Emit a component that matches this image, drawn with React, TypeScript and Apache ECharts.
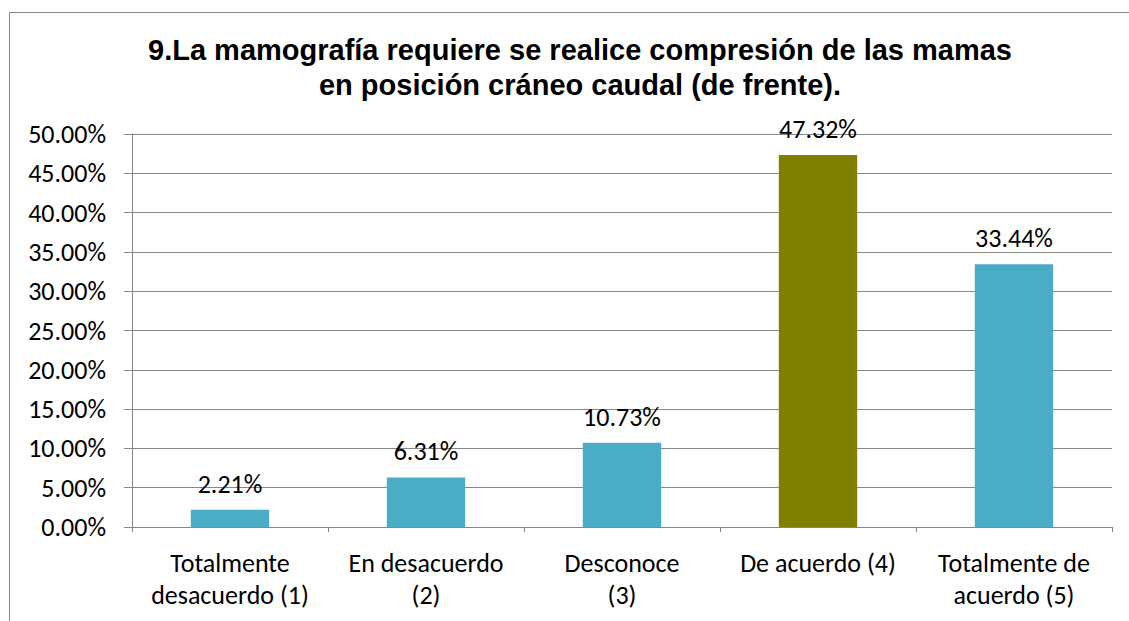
import React, { useEffect, useRef } from "react";
import * as echarts from "echarts";

const categories = [
  "Totalmente\ndesacuerdo (1)",
  "En desacuerdo\n(2)",
  "Desconoce\n(3)",
  "De acuerdo (4)",
  "Totalmente de\nacuerdo (5)",
];
const values = [2.21, 6.31, 10.73, 47.32, 33.44];
const barColors = ["#4BACC6", "#4BACC6", "#4BACC6", "#808000", "#4BACC6"];
const titleText =
  "9.La mamografía requiere se realice compresión de las mamas\nen posición cráneo caudal (de frente).";

export default function App() {
  const ref = useRef<HTMLDivElement>(null);
  useEffect(() => {
    document.body.style.margin = "0";
    const chart = echarts.init(ref.current!, null, { renderer: "svg" });
    const labelFont = "Carlito, Lato, sans-serif";
    chart.setOption({
      animation: false,
      backgroundColor: "#ffffff",
      title: {
        text: titleText,
        left: 575,
        textAlign: "center",
        top: 27,
        textStyle: {
          fontFamily: "Liberation Sans, Arial, sans-serif",
          fontWeight: "bold",
          fontSize: 29,
          lineHeight: 35,
          color: "#000",
        },
      },
      graphic: [
        {
          type: "rect",
          shape: { x: 9.5, y: 12.5, width: 1140, height: 640 },
          style: { fill: "none", stroke: "#868686", lineWidth: 1 },
          silent: true,
        },
      ],
      grid: { left: 132, right: 17, top: 134, bottom: 94 },
      xAxis: {
        type: "category",
        data: categories,
        axisLine: { lineStyle: { color: "#868686", width: 1 } },
        axisTick: { show: true, length: 5, lineStyle: { color: "#868686" } },
        axisLabel: {
          color: "#000",
          fontFamily: labelFont,
          fontSize: 26,
          lineHeight: 32,
          margin: 20,
          interval: 0,
        },
      },
      yAxis: {
        type: "value",
        min: 0,
        max: 50,
        interval: 5,
        axisLine: { show: true, lineStyle: { color: "#868686", width: 1 } },
        axisTick: { show: true, length: 8, lineStyle: { color: "#868686" } },
        splitLine: { lineStyle: { color: "#868686", width: 1 } },
        axisLabel: {
          color: "#000",
          fontFamily: labelFont,
          fontSize: 26,
          margin: 26,
          formatter: (v: number) => v.toFixed(2) + "%",
        },
      },
      series: [
        {
          type: "bar",
          barWidth: "40%",
          data: values.map((v, i) => ({ value: v, itemStyle: { color: barColors[i] } })),
          label: {
            show: true,
            position: "top",
            distance: 13,
            color: "#000",
            fontFamily: labelFont,
            fontSize: 26,
            formatter: (p: any) => p.value.toFixed(2) + "%",
          },
        },
      ],
    });
    return () => chart.dispose();
  }, []);
  return <div ref={ref} style={{ width: 1129, height: 621 }} />;
}
